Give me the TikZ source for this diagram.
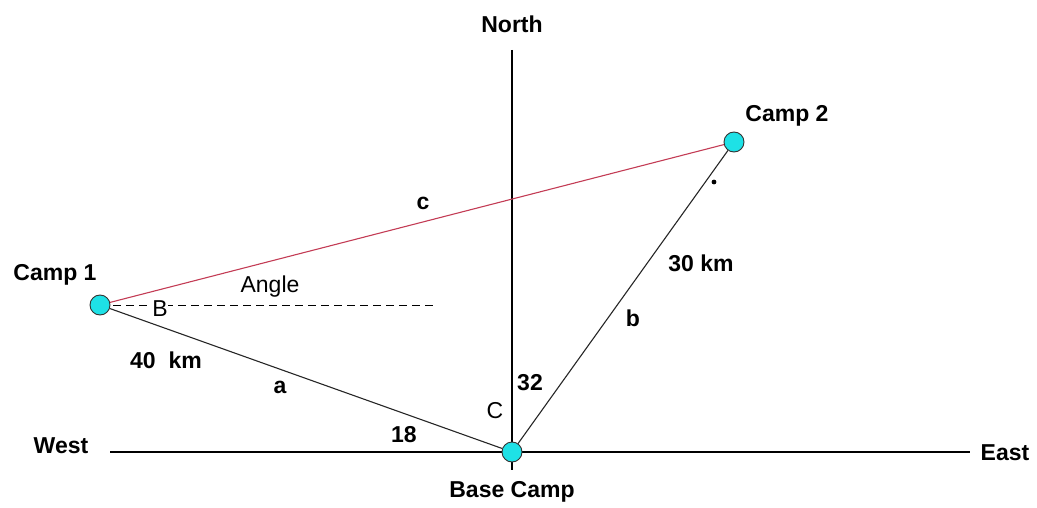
\documentclass[tikz,border=0pt]{standalone}
\usepackage{fontspec}
\setmainfont{Liberation Sans}
\usepackage{xcolor}
\usepackage{tikz}
\usetikzlibrary{shapes.geometric, arrows, backgrounds}

\definecolor{campfill}{RGB}{30,225,230}
\definecolor{routec}{RGB}{195,60,85}

\begin{document}
\begin{tikzpicture}[x=1pt, y=-1pt, font=\fontsize{23}{27}\selectfont]
    % Define the style for the nodes
    \tikzstyle{camp} = [circle, draw=black!80, fill=campfill, line width=0.9pt, minimum size=20pt, inner sep=0pt]
    \tikzstyle{label} = [inner sep=1pt, font=\fontsize{23}{27}\selectfont\bfseries]
    \tikzstyle{plain} = [inner sep=1pt]
    \tikzstyle{axis} = [draw, line width=1.4pt]
    \tikzstyle{leg} = [draw, black!85, line width=1.1pt]
    \useasboundingbox (0,0) rectangle (1037,508);

    % Place the axis ends
    \coordinate (northend) at (512,50);
    \coordinate (southend) at (512,470);
    \coordinate (westend) at (110,452);
    \coordinate (eastend) at (970,452);
    \coordinate (dashend) at (433,305);

    % Place the camps
    \node [camp] (base) at (512,452) {};
    \node [camp] (campone) at (100,305) {};
    \node [camp] (camptwo) at (734,142) {};

    % Place the text
    \node [label] (north) at (512,24) {North};
    \node [label] (west) at (61,446) {West};
    \node [label] (east) at (1005,453) {East};
    \node [label] (basetext) at (512,492) {Base Camp};
    \node [label] (camponetext) at (55,275) {Camp 1};
    \node [label] (camptwotext) at (787,116) {Camp 2};
    \node [plain] (angle) at (270,287) {Angle};
    \node [plain, fill=white, inner sep=0pt] (angleb) at (160,309) {B};
    \node [plain] (anglec) at (495,411) {C};
    \node [label] (sidec) at (423,203) {c};
    \node [label] (sidea) at (280,387) {a};
    \node [label] (sideb) at (633,318) {b};
    \node [label] (dista) at (166,360) {40\ \ km};
    \node [label] (distb) at (701,263) {30 km};
    \node [label] (angone) at (404,435) {18};
    \node [label] (angtwo) at (530,383) {32};
    \fill (714,182) circle (2.4pt);

    % Connect the nodes with paths
    \begin{scope}[on background layer]
        \path [axis] (northend) -- (southend);
        \path [axis] (westend) -- (eastend);
        \path [draw, dash pattern=on 8pt off 5pt, line width=1pt] (campone.center) -- (dashend);
        \path [leg, routec] (campone) -- (camptwo);
        \path [leg] (campone) -- (base);
        \path [leg] (base) -- (camptwo);
    \end{scope}
\end{tikzpicture}
\end{document}
